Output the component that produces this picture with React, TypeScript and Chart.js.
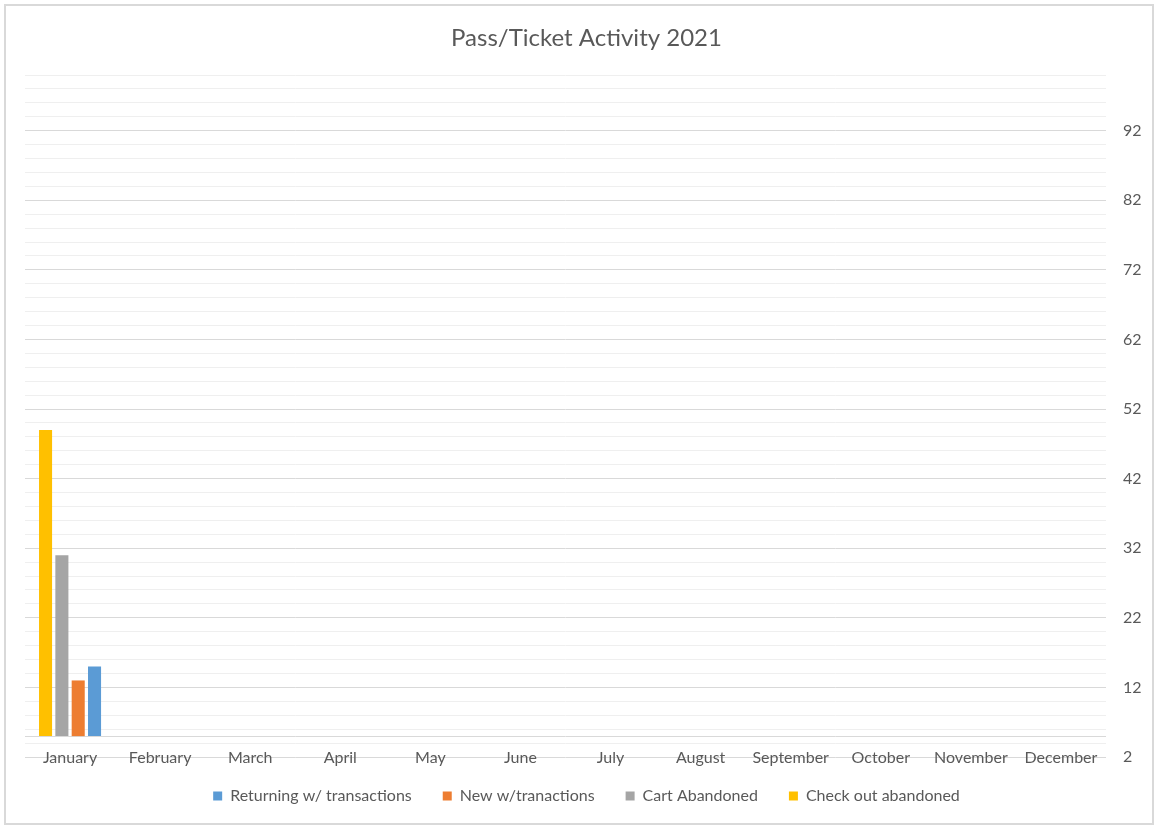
import { useEffect, useRef } from "react";
import { Chart, registerables } from "chart.js";

Chart.register(...registerables);

// Categories and series
const months = [
  "January", "February", "March", "April", "May", "June",
  "July", "August", "September", "October", "November", "December",
];
const checkoutAbandoned = [49, null, null, null, null, null, null, null, null, null, null, null];
const cartAbandoned = [31, null, null, null, null, null, null, null, null, null, null, null];
const newWithTransactions = [13, null, null, null, null, null, null, null, null, null, null, null];
const returningWithTransactions = [15, null, null, null, null, null, null, null, null, null, null, null];

// Value axis: minor lines every 2, labelled every 10 starting at 2; category axis crosses at 5
const axisMin = 2;
const axisMax = 100;
const minorStep = 2;
const majorStep = 10;
const axisCross = 5;

const FONT = "Lato, 'Liberation Sans', sans-serif";
const TEXT = "#595959";
const MAJOR_GRID = "#d9d9d9";
const MINOR_GRID = "#efefef";

const isMajor = (v: number) => Math.abs((v - axisMin) % majorStep) < 1e-9;

// Horizontal category-axis line drawn where it crosses the value axis
const crossingLine = {
  id: "crossingLine",
  beforeDatasetsDraw(chart: any) {
    const { ctx, chartArea, scales } = chart;
    const y = Math.round(scales.y.getPixelForValue(axisCross)) + 0.5;
    ctx.save();
    ctx.strokeStyle = MAJOR_GRID;
    ctx.lineWidth = 1;
    ctx.beginPath();
    ctx.moveTo(chartArea.left, y);
    ctx.lineTo(chartArea.right, y);
    ctx.stroke();
    ctx.restore();
  },
};

export default function App() {
  const canvasRef = useRef<HTMLCanvasElement | null>(null);

  useEffect(() => {
    if (!canvasRef.current) return;
    const barShape = { base: axisCross, barPercentage: 0.8, categoryPercentage: 0.725, borderWidth: 0 };
    const chart = new Chart(canvasRef.current, {
      type: "bar",
      data: {
        labels: months,
        datasets: [
          { label: "Check out abandoned", data: checkoutAbandoned, backgroundColor: "#FFC000", ...barShape },
          { label: "Cart Abandoned", data: cartAbandoned, backgroundColor: "#A5A5A5", ...barShape },
          { label: "New w/tranactions", data: newWithTransactions, backgroundColor: "#ED7D31", ...barShape },
          { label: "Returning w/ transactions", data: returningWithTransactions, backgroundColor: "#5B9BD5", ...barShape },
        ],
      },
      options: {
        responsive: false,
        animation: false,
        layout: { padding: { left: 25, right: 8, top: 0, bottom: 13 } },
        plugins: {
          title: {
            display: true,
            text: "Pass/Ticket Activity 2021",
            color: TEXT,
            font: { family: FONT, size: 24, weight: "normal" },
            padding: { top: 24, bottom: 22.2 },
          },
          legend: {
            position: "bottom",
            reverse: true,
            labels: {
              boxWidth: 9,
              boxHeight: 9,
              padding: 31,
              color: TEXT,
              font: { family: FONT, size: 16 },
            },
          },
          tooltip: { enabled: false },
        },
        scales: {
          x: {
            type: "category",
            offset: true,
            grid: { display: false, drawTicks: false },
            border: { display: false },
            ticks: {
              color: TEXT,
              font: { family: FONT, size: 16 },
              mirror: true,
              padding: -10,
              maxRotation: 0,
              autoSkip: false,
            },
            afterFit(scale: any) {
              scale.height = 0;
            },
          },
          y: {
            position: "right",
            min: axisMin,
            max: axisMax,
            grid: {
              drawTicks: false,
              lineWidth: 1,
              color: (ctx: any) => (isMajor(ctx.tick.value) ? MAJOR_GRID : MINOR_GRID),
            },
            border: { display: false },
            ticks: {
              stepSize: minorStep,
              autoSkip: false,
              padding: 17,
              color: TEXT,
              font: { family: FONT, size: 16 },
              callback: (v: any) => (isMajor(Number(v)) && Number(v) < axisMax ? String(v) : ""),
            },
            afterFit(scale: any) {
              scale.width = 42;
            },
          },
        },
      },
      plugins: [crossingLine],
    } as any);
    return () => chart.destroy();
  }, []);

  return (
    <div style={{ position: "absolute", left: 0, top: 0, width: 1156, height: 827, background: "#ffffff" }}>
      <canvas ref={canvasRef} width={1156} height={827} style={{ position: "absolute", left: 0, top: 0 }} />
      <div
        style={{
          position: "absolute",
          left: 4,
          top: 4,
          width: 1150,
          height: 821,
          border: "2px solid #d9d9d9",
          boxSizing: "border-box",
          pointerEvents: "none",
        }}
      />
    </div>
  );
}
